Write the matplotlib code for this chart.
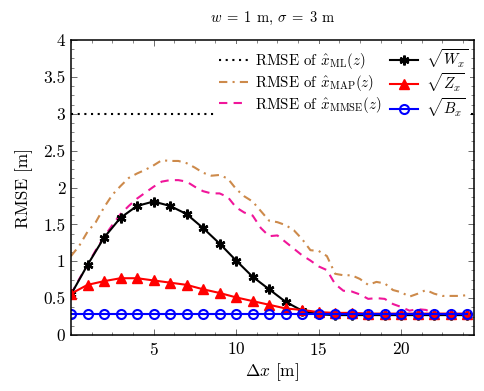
import numpy as np
import matplotlib.pyplot as plt
from matplotlib.ticker import MultipleLocator

plt.rcParams['font.family'] = 'serif'
plt.rcParams['font.serif'] = ['cmr10']
plt.rcParams['mathtext.fontset'] = 'cm'
plt.rcParams['axes.formatter.use_mathtext'] = True

# sample points
x_int = np.arange(0, 25)
x_half = np.arange(0, 24.5, 0.5)

# RMSE of ML estimate (constant)
ml = [3.0, 3.0]
ml_x = [0, 24.4]

# RMSE of MAP estimate
rmse_map = [1.07, 1.21, 1.40, 1.53, 1.73, 1.90, 2.02, 2.13, 2.19, 2.24,
            2.30, 2.37, 2.36, 2.36, 2.33, 2.27, 2.20, 2.16, 2.17, 2.12,
            1.98, 1.88, 1.81, 1.68, 1.55, 1.53, 1.49, 1.42, 1.30, 1.15,
            1.14, 1.07, 0.83, 0.81, 0.81, 0.76, 0.68, 0.72, 0.70, 0.61,
            0.58, 0.52, 0.56, 0.61, 0.56, 0.53, 0.53, 0.53, 0.54]

# RMSE of MMSE estimate
rmse_mmse = [0.55, 0.76, 0.95, 1.15, 1.33, 1.49, 1.64, 1.75, 1.85, 1.93,
             2.01, 2.08, 2.10, 2.10, 2.08, 2.01, 1.95, 1.92, 1.92, 1.87,
             1.73, 1.66, 1.62, 1.45, 1.34, 1.35, 1.26, 1.17, 1.08, 1.01,
             0.93, 0.88, 0.69, 0.60, 0.59, 0.55, 0.49, 0.50, 0.49, 0.42,
             0.38, 0.33, 0.35, 0.34, 0.29, 0.28, 0.28, 0.28, 0.28]

sqrt_w = [0.55, 0.95, 1.32, 1.59, 1.75, 1.81, 1.75, 1.64, 1.45, 1.24,
          1.01, 0.79, 0.62, 0.45, 0.33, 0.28, 0.27, 0.27, 0.27, 0.27,
          0.27, 0.27, 0.27, 0.27, 0.27]

sqrt_z = [0.56, 0.68, 0.73, 0.77, 0.77, 0.74, 0.71, 0.68, 0.62, 0.57,
          0.51, 0.46, 0.41, 0.36, 0.34, 0.31, 0.30, 0.30, 0.29, 0.29,
          0.29, 0.29, 0.29, 0.29, 0.29]

sqrt_b = [0.28] * 25

fig = plt.figure(figsize=(4.85, 3.91), dpi=100)
ax = fig.add_axes([0.1464, 0.1432, 0.8306, 0.7545])

l1, = ax.plot(ml_x, ml, color='black', lw=1.5, ls=(0, (1, 2.2)))
l2, = ax.plot(x_half, rmse_map, color='#CD8A4B', lw=1.5, ls=(0, (4, 2.5, 1, 2.5)))
l3, = ax.plot(x_half, rmse_mmse, color='#F0169A', lw=1.5, ls=(0, (4, 3)))
l4, = ax.plot(x_int, sqrt_w, color='black', lw=1.5, marker=(6, 2, 0), ms=7, mew=1.8)
l5, = ax.plot(x_int, sqrt_z, color='red', lw=1.5, marker='^', ms=7)
l6, = ax.plot(x_int, sqrt_b, color='blue', lw=1.5, marker='o', ms=6.5,
              mfc='none', mew=1.5)

ax.set_xlim(0, 24.4)
ax.set_ylim(0, 4)
ax.xaxis.set_minor_locator(MultipleLocator(1.25))
ax.yaxis.set_minor_locator(MultipleLocator(0.125))
ax.set_xticks([5, 10, 15, 20])
ax.set_yticks([0, 0.5, 1, 1.5, 2, 2.5, 3, 3.5, 4])
ax.set_yticklabels(['0', '0.5', '1', '1.5', '2', '2.5', '3', '3.5', '4'])
ax.tick_params(which='both', direction='in', top=True, right=True,
               labelsize=12.5, color='#555555', pad=4)
ax.tick_params(which='major', length=4.5, width=0.6)
ax.tick_params(which='minor', length=2.5, width=0.5)
for s in ax.spines.values():
    s.set_linewidth(1.1)

ax.set_xlabel(r'$\Delta x$ [m]', fontsize=12.5, labelpad=3)
ax.set_ylabel('RMSE [m]', fontsize=12.5, labelpad=7)
ax.set_title(r'$w\;=\;1$ m, $\sigma\;=\;3$ m', fontsize=10.5, pad=13)

handles = [l1, l2, l3, l4, l5, l6]
labels = [r'RMSE of $\hat{x}_{\mathrm{ML}}(z)$',
          r'RMSE of $\hat{x}_{\mathrm{MAP}}(z)$',
          r'RMSE of $\hat{x}_{\mathrm{MMSE}}(z)$',
          r'$\sqrt{W_x}$', r'$\sqrt{Z_x}$', r'$\sqrt{B_x}$']
leg = ax.legend(handles, labels, ncol=2, loc='upper right',
                bbox_to_anchor=(0.99, 0.985), fontsize=10.8, frameon=True,
                framealpha=1, edgecolor='none', fancybox=False,
                handlelength=1.9, handletextpad=0.5, columnspacing=0.5,
                labelspacing=0.12, borderpad=0.15, borderaxespad=0)

fig.savefig('out.png', dpi=100)
